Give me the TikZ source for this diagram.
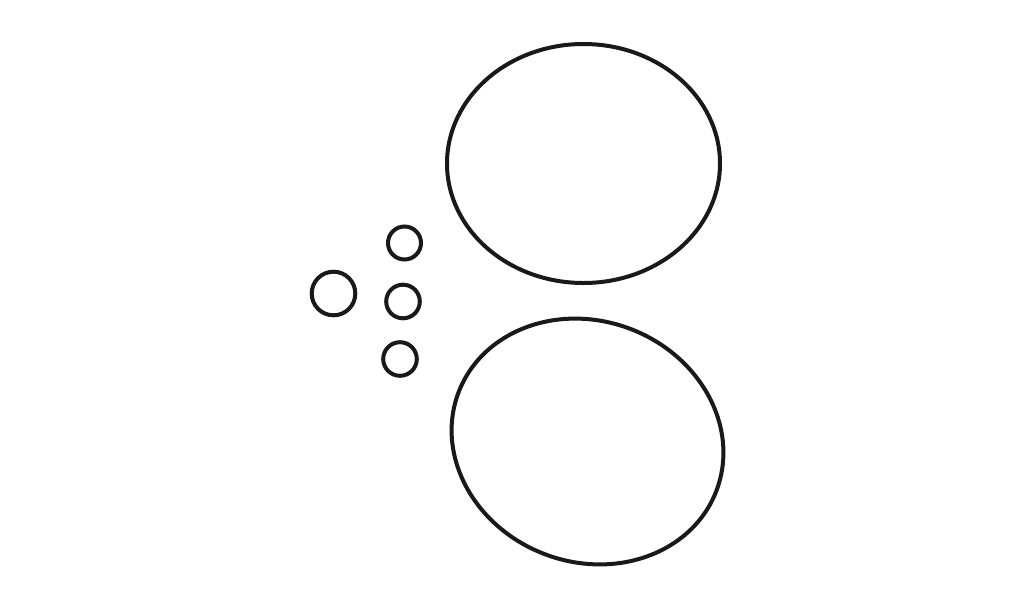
\documentclass[tikz,border=0pt]{standalone}
\begin{document}
\begin{tikzpicture}[x=1pt,y=-1pt,
  ring/.style={draw=black!90,line width=4pt},
  smallring/.style={draw=black!90,line width=4pt}]
\useasboundingbox[fill=white] (0,0) rectangle (1034,611);
\draw[ring] (583.5,163.5) ellipse [x radius=136.5, y radius=119.5];
\draw[ring] (587.5,441.5) ellipse [x radius=138, y radius=120.5, rotate=-21];
\draw[smallring] (404.5,243) circle [radius=16.5];
\draw[smallring] (333.5,293.5) circle [radius=21.8];
\draw[smallring] (403,301.5) circle [radius=16.8];
\draw[smallring] (400,359) circle [radius=16.8];
\end{tikzpicture}
\end{document}
